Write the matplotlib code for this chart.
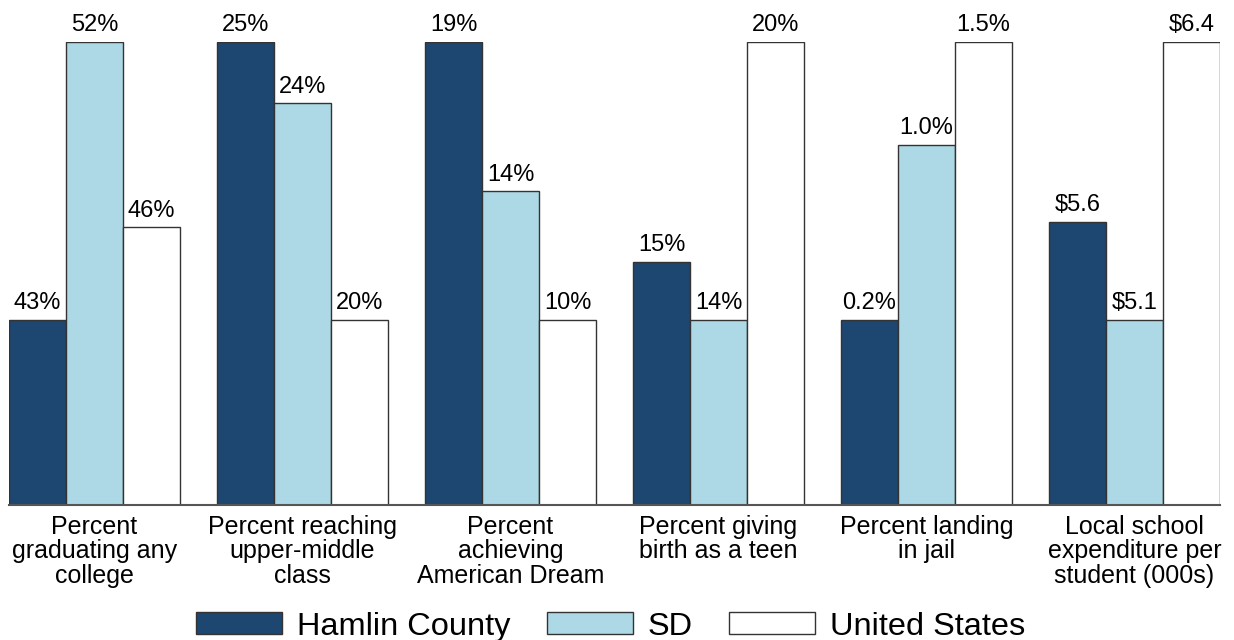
import numpy as np
import matplotlib.pyplot as plt

plt.rcParams['font.family'] = ['Liberation Sans', 'DejaVu Sans']

categories = [
    "Percent\ngraduating any\ncollege",
    "Percent reaching\nupper-middle\nclass",
    "Percent\nachieving\nAmerican Dream",
    "Percent giving\nbirth as a teen",
    "Percent landing\nin jail",
    "Local school\nexpenditure per\nstudent (000s)",
]
series = ["Hamlin County", "SD", "United States"]
hamlin = [43, 25, 19.3, 15.25, 0.2, 5.56]
sd = [52, 23.9, 14.3, 14, 1.02, 5.1]
us = [46.0, 20, 10, 20, 1.5, 6.4]
formats = ["{:.0f}%", "{:.0f}%", "{:.0f}%", "{:.0f}%", "{:.1f}%", "${:.1f}"]
colors = ["#1d4670", "#add8e6", "#ffffff"]

# each group is scaled on its own: lowest bar at 40%, highest at full height
values = np.array([hamlin, sd, us])
lo = values.min(axis=0)
hi = values.max(axis=0)
heights = 0.4 + 0.6 * (values - lo) / (hi - lo)

fig = plt.figure(figsize=(12.34, 6.4), dpi=100)
ax = fig.add_axes([9 / 1234, 135 / 640, 1211 / 1234, 463 / 640])

x = np.arange(len(categories))
w = 0.274
for i, name in enumerate(series):
    pos = x + (i - 1) * w
    bars = ax.bar(pos, heights[i], w, color=colors[i], edgecolor="#333333",
                  linewidth=1, label=name)
    for b, v, fmt in zip(bars, values[i], formats):
        ax.text(b.get_x() + b.get_width() / 2, b.get_height() + 0.012, fmt.format(v),
                ha="center", va="bottom", fontsize=17, clip_on=False)

ax.set_xlim(-1.5 * w, len(categories) - 1 + 1.5 * w)
ax.set_ylim(0, 1)
ax.set_xticks(x)
ax.set_xticklabels(categories, fontsize=18, linespacing=1.04)
ax.tick_params(axis="x", length=0, pad=7)
ax.set_yticks([])
for s in ["top", "left", "right"]:
    ax.spines[s].set_visible(False)
ax.spines["bottom"].set_color("#555555")
ax.spines["bottom"].set_linewidth(1.5)

fig.legend(loc="center", bbox_to_anchor=(0.495, 0.021), ncol=3, frameon=False,
           fontsize=23.4, handlelength=2.65, handleheight=0.68, columnspacing=1.12,
           handletextpad=0.46, borderpad=0.2)

fig.savefig("out.png", dpi=100)
